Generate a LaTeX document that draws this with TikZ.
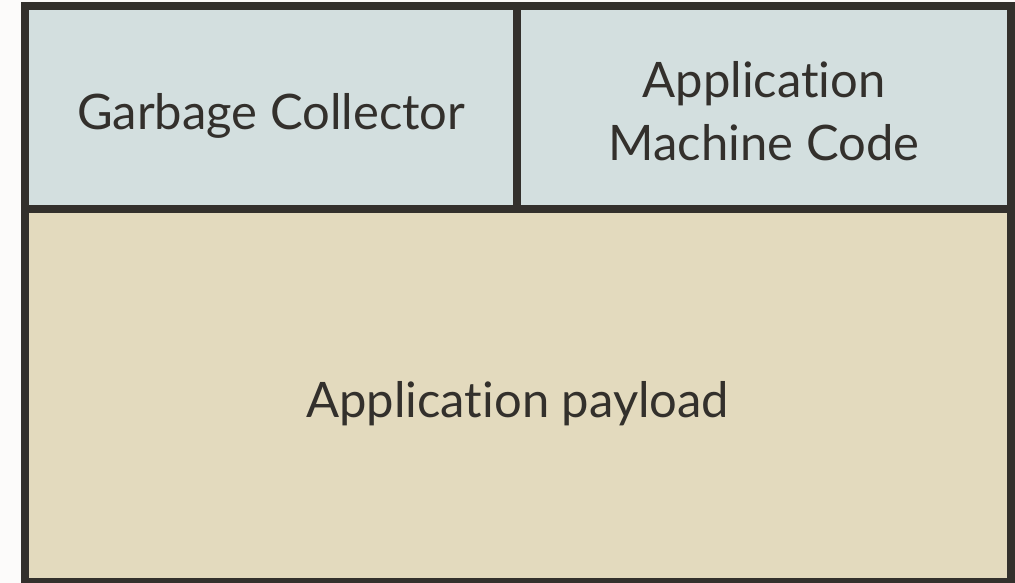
\documentclass[tikz,border=0pt]{standalone}
\usepackage{fontspec}
\setmainfont{Lato}[Ligatures=NoCommon]
\usepackage{tikz}
\usetikzlibrary{positioning}
\usepackage{xcolor}
\definecolor{frame}{RGB}{51,48,44}
\definecolor{cellblue}{RGB}{211,223,223}
\definecolor{cellsand}{RGB}{227,218,190}
\definecolor{paper}{RGB}{252,251,250}
\tikzset{
  cbox/.style={rectangle, draw=frame, line width=0.2cm, inner sep=0pt},
  ctext/.style={align=center, inner sep=0pt, text=frame,
                font=\fontsize{34.8}{44.5}\selectfont},
}
\begin{document}
\begin{tikzpicture}[x=0.025cm, y=-0.025cm]
    \fill[paper] (0,0) rectangle (1015,583);
    \useasboundingbox (0,0) rectangle (1015,583);
    % cells
    \node[cbox, fill=cellsand, minimum width=24.6375cm, minimum height=9.325cm] (payload)
      at (517.75,395.5) {};
    \node[cbox, fill=cellblue, minimum width=12.3125cm, minimum height=5.0625cm] (gc)
      at (271.25,107.75) {};
    \node[cbox, fill=cellblue, minimum width=12.325cm, minimum height=5.0625cm] (amc)
      at (764,107.75) {};
    % texts
    \node[ctext] (payloadtxt) at ([yshift=-0.2cm]payload.center) {Application payload};
    \node[ctext] (gctxt) at ([yshift=-0.2cm]gc.center) {Garbage Collector};
    \node[ctext] (amctxt) at ([yshift=-0.09cm]amc.center) {Application\\Machine Code};
  \end{tikzpicture}
\end{document}
